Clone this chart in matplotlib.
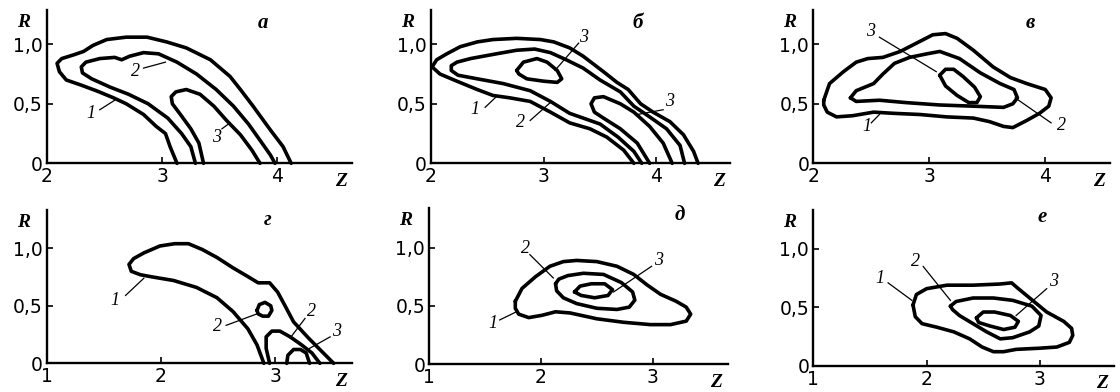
import matplotlib.pyplot as plt
import numpy as np

W, H = 1120, 392
SERIF = "Liberation Serif"
SANS = "DejaVu Sans"

# ---- panel а: contours 1-3 (open, both ends on the Z axis) ----
A1_Z = [3.13, 3.07, 3.03, 2.95, 2.84, 2.69, 2.58, 2.43, 2.29, 2.17, 2.11, 2.09, 2.13, 2.23,
        2.32, 2.40, 2.52, 2.69, 2.87, 3.04, 3.21, 3.42, 3.59, 3.68, 3.79, 3.94, 4.05, 4.12]
A1_R = [0, 0.14, 0.25, 0.31, 0.41, 0.50, 0.55, 0.61, 0.66, 0.70, 0.77, 0.84, 0.88, 0.91,
        0.94, 0.99, 1.04, 1.06, 1.06, 1.02, 0.97, 0.87, 0.73, 0.62, 0.48, 0.28, 0.14, 0]
A2_Z = [3.29, 3.25, 3.17, 3.05, 2.88, 2.71, 2.55, 2.39, 2.31, 2.30, 2.34, 2.46, 2.59, 2.65,
        2.72, 2.84, 2.97, 3.13, 3.30, 3.47, 3.62, 3.75, 3.86, 3.94, 3.98]
A2_R = [0, 0.14, 0.25, 0.38, 0.50, 0.58, 0.64, 0.71, 0.76, 0.81, 0.85, 0.88, 0.89, 0.87,
        0.90, 0.93, 0.92, 0.85, 0.75, 0.62, 0.48, 0.33, 0.18, 0.07, 0]
A3_Z = [3.36, 3.32, 3.25, 3.16, 3.09, 3.08, 3.12, 3.21, 3.33, 3.45, 3.56, 3.68, 3.78, 3.85]
A3_R = [0, 0.17, 0.29, 0.41, 0.50, 0.56, 0.60, 0.62, 0.58, 0.48, 0.36, 0.24, 0.11, 0]

# ---- panel б ----
B1_Z = [3.80, 3.71, 3.56, 3.41, 3.23, 3.06, 2.88, 2.70, 2.55, 2.41, 2.23, 2.08, 2.01, 2.05,
        2.14, 2.26, 2.41, 2.55, 2.76, 2.97, 3.09, 3.23, 3.35, 3.53, 3.65, 3.75, 3.86, 3.97,
        4.12, 4.24, 4.33, 4.37]
B1_R = [0, 0.11, 0.22, 0.29, 0.34, 0.43, 0.52, 0.55, 0.57, 0.62, 0.69, 0.75, 0.81, 0.87,
        0.92, 0.98, 1.02, 1.04, 1.05, 1.04, 1.02, 0.97, 0.90, 0.77, 0.68, 0.62, 0.50, 0.43,
        0.35, 0.24, 0.10, 0]
B2_Z = [3.87, 3.80, 3.66, 3.50, 3.23, 3.06, 2.88, 2.64, 2.41, 2.24, 2.18, 2.18, 2.23, 2.35,
        2.58, 2.76, 2.92, 3.06, 3.20, 3.35, 3.50, 3.68, 3.80, 3.94, 4.09, 4.21, 4.25]
B2_R = [0, 0.10, 0.22, 0.33, 0.42, 0.52, 0.61, 0.67, 0.71, 0.74, 0.78, 0.82, 0.85, 0.88,
        0.92, 0.95, 0.96, 0.93, 0.87, 0.80, 0.70, 0.60, 0.48, 0.39, 0.29, 0.15, 0]
B3U_Z = [2.76, 2.82, 2.94, 3.03, 3.12, 3.16, 3.12, 3.00, 2.85, 2.78]
B3U_R = [0.78, 0.85, 0.88, 0.85, 0.78, 0.71, 0.68, 0.69, 0.71, 0.75]
B3L_Z = [3.94, 3.83, 3.68, 3.53, 3.45, 3.42, 3.45, 3.53, 3.68, 3.80, 3.94, 4.06, 4.14]
B3L_R = [0, 0.17, 0.29, 0.38, 0.43, 0.50, 0.55, 0.56, 0.50, 0.43, 0.31, 0.17, 0]

# ---- panel в (closed loops) ----
V1_Z = [2.09, 2.14, 2.26, 2.37, 2.47, 2.60, 2.75, 2.89, 3.03, 3.14, 3.24, 3.38, 3.55, 3.70,
        3.84, 4.00, 4.05, 4.03, 3.95, 3.84, 3.72, 3.64, 3.52, 3.38, 3.15, 2.92, 2.69, 2.52,
        2.34, 2.20, 2.12, 2.09]
V1_R = [0.53, 0.67, 0.77, 0.85, 0.88, 0.89, 0.94, 1.01, 1.08, 1.09, 1.05, 0.95, 0.81, 0.72,
        0.67, 0.62, 0.55, 0.48, 0.42, 0.36, 0.30, 0.31, 0.35, 0.38, 0.39, 0.41, 0.42, 0.43,
        0.40, 0.39, 0.43, 0.49]
V2_Z = [2.32, 2.37, 2.52, 2.60, 2.70, 2.83, 2.98, 3.09, 3.26, 3.44, 3.61, 3.73, 3.76, 3.72,
        3.64, 3.38, 3.09, 2.80, 2.57, 2.37]
V2_R = [0.55, 0.61, 0.67, 0.75, 0.84, 0.89, 0.92, 0.94, 0.88, 0.76, 0.67, 0.62, 0.55, 0.50,
        0.47, 0.48, 0.49, 0.51, 0.53, 0.52]
V3_Z = [3.09, 3.14, 3.21, 3.29, 3.39, 3.44, 3.41, 3.34, 3.24, 3.14]
V3_R = [0.74, 0.79, 0.79, 0.73, 0.64, 0.56, 0.51, 0.51, 0.57, 0.65]

# ---- panel г ----
G1_Z = [2.90, 2.84, 2.76, 2.63, 2.49, 2.31, 2.11, 1.93, 1.82, 1.74, 1.72, 1.76, 1.85, 1.99,
        2.12, 2.24, 2.36, 2.49, 2.63, 2.75, 2.85, 2.95, 3.02, 3.08, 3.16, 3.29, 3.41, 3.51]
G1_R = [0, 0.16, 0.30, 0.45, 0.57, 0.66, 0.72, 0.75, 0.77, 0.80, 0.86, 0.91, 0.96, 1.02,
        1.04, 1.04, 0.99, 0.92, 0.83, 0.76, 0.70, 0.70, 0.62, 0.51, 0.36, 0.22, 0.10, 0]
G2L_Z = [2.84, 2.86, 2.91, 2.96, 2.97, 2.94, 2.89, 2.85]
G2L_R = [0.46, 0.51, 0.53, 0.50, 0.46, 0.41, 0.41, 0.43]
G2A_Z = [2.95, 2.92, 2.92, 2.97, 3.04, 3.13, 3.23, 3.32, 3.39]
G2A_R = [0, 0.13, 0.23, 0.28, 0.28, 0.23, 0.16, 0.09, 0]
G3_Z = [3.10, 3.11, 3.16, 3.22, 3.27, 3.30]
G3_R = [0, 0.07, 0.12, 0.12, 0.09, 0]

# ---- panel д (closed loops) ----
D1_Z = [1.77, 1.83, 1.95, 2.08, 2.20, 2.32, 2.50, 2.68, 2.83, 2.95, 3.07, 3.21, 3.30, 3.34,
        3.30, 3.16, 2.98, 2.74, 2.50, 2.26, 2.13, 2.01, 1.89, 1.80, 1.77]
D1_R = [0.54, 0.65, 0.75, 0.84, 0.88, 0.89, 0.88, 0.84, 0.77, 0.68, 0.60, 0.54, 0.49, 0.43,
        0.37, 0.34, 0.34, 0.36, 0.39, 0.44, 0.45, 0.42, 0.40, 0.43, 0.48]
D2_Z = [2.13, 2.16, 2.24, 2.38, 2.56, 2.72, 2.82, 2.84, 2.79, 2.68, 2.50, 2.32, 2.20, 2.14]
D2_R = [0.69, 0.73, 0.76, 0.78, 0.77, 0.70, 0.62, 0.55, 0.49, 0.47, 0.48, 0.52, 0.57, 0.63]
D3_Z = [2.30, 2.35, 2.45, 2.57, 2.64, 2.60, 2.48, 2.36]
D3_R = [0.62, 0.67, 0.69, 0.69, 0.64, 0.59, 0.57, 0.59]

# ---- panel е (closed loops) ----
E1_Z = [1.88, 1.91, 2.00, 2.18, 2.41, 2.65, 2.75, 2.81, 2.91, 3.06, 3.21, 3.28, 3.29, 3.26,
        3.15, 3.00, 2.79, 2.68, 2.59, 2.49, 2.38, 2.24, 2.09, 1.96, 1.90]
E1_R = [0.52, 0.61, 0.66, 0.69, 0.69, 0.70, 0.71, 0.66, 0.58, 0.46, 0.38, 0.32, 0.26, 0.20,
        0.16, 0.15, 0.14, 0.12, 0.12, 0.16, 0.23, 0.29, 0.33, 0.36, 0.42]
E2_Z = [2.21, 2.26, 2.41, 2.59, 2.76, 2.93, 3.01, 2.99, 2.91, 2.76, 2.65, 2.53, 2.41, 2.29, 2.23]
E2_R = [0.51, 0.55, 0.58, 0.58, 0.56, 0.51, 0.43, 0.34, 0.29, 0.24, 0.23, 0.29, 0.36, 0.43, 0.48]
E3_Z = [2.44, 2.50, 2.60, 2.74, 2.81, 2.78, 2.68, 2.56, 2.46]
E3_R = [0.41, 0.46, 0.46, 0.43, 0.38, 0.33, 0.31, 0.34, 0.37]

# contour number labels: (text, label Z, label R, leader from (Z, R), leader to (Z, R))
A_LABELS = [("1", 2.38, 0.42, (2.46, 0.45), (2.59, 0.53)),
            ("2", 2.77, 0.77, (2.84, 0.80), (3.03, 0.85)),
            ("3", 3.47, 0.22, (3.52, 0.29), (3.59, 0.34))]
B_LABELS = [("1", 2.39, 0.45, (2.48, 0.47), (2.58, 0.56)),
            ("2", 2.79, 0.34, (2.88, 0.36), (3.07, 0.52)),
            ("3", 3.35, 1.06, (3.31, 1.01), (3.10, 0.78)),
            ("3", 4.12, 0.52, (4.06, 0.45), (3.83, 0.41))]
V_LABELS = [("3", 2.49, 1.11, (2.57, 1.06), (3.06, 0.77)),
            ("2", 4.14, 0.32, (4.05, 0.34), (3.74, 0.55)),
            ("1", 2.46, 0.31, (2.50, 0.34), (2.57, 0.41))]
G_LABELS = [("1", 1.60, 0.55, (1.69, 0.59), (1.85, 0.74)),
            ("2", 2.49, 0.32, (2.57, 0.33), (2.84, 0.43)),
            ("2", 3.32, 0.45, (3.26, 0.39), (3.13, 0.22)),
            ("3", 3.54, 0.28, (3.48, 0.23), (3.30, 0.13))]
D_LABELS = [("2", 1.86, 0.99, (1.90, 0.94), (2.11, 0.74)),
            ("3", 3.05, 0.89, (2.99, 0.84), (2.65, 0.62)),
            ("1", 1.57, 0.35, (1.63, 0.38), (1.78, 0.45))]
E_LABELS = [("1", 1.59, 0.75, (1.66, 0.71), (1.87, 0.56)),
            ("2", 1.90, 0.89, (1.97, 0.85), (2.21, 0.56)),
            ("3", 3.12, 0.72, (3.06, 0.66), (2.79, 0.43))]

TOP_TICKS = [2, 3, 4]
BOTTOM_TICKS = [1, 2, 3]
R_TICKS = [0, 0.5, 1.0]
R_TICKLABELS = ["0", "0,5", "1,0"]

# (letter, letter pos, pixel origin x/y, px per unit Z/R, zmin, zmax, rmax, ticks, contours, labels)
PANELS = [
    ("а", (3.88, 1.18), (46.7, 163.3, 115.3, 119.0), (2, 4.65, 1.29), TOP_TICKS,
     [(A1_Z, A1_R, False), (A2_Z, A2_R, False), (A3_Z, A3_R, False)], A_LABELS),
    ("б", (3.83, 1.18), (431.0, 163.3, 112.7, 119.0), (2, 4.65, 1.29), TOP_TICKS,
     [(B1_Z, B1_R, False), (B2_Z, B2_R, False), (B3U_Z, B3U_R, True), (B3L_Z, B3L_R, False)],
     B_LABELS),
    ("в", (3.87, 1.18), (813.3, 163.3, 116.0, 119.0), (2, 4.56, 1.29), TOP_TICKS,
     [(V1_Z, V1_R, True), (V2_Z, V2_R, True), (V3_Z, V3_R, True)], V_LABELS),
    ("г", (2.93, 1.25), (46.7, 363.3, 114.3, 115.0), (1, 3.67, 1.33), BOTTOM_TICKS,
     [(G1_Z, G1_R, False), (G2L_Z, G2L_R, True), (G2A_Z, G2A_R, False), (G3_Z, G3_R, False)],
     G_LABELS),
    ("д", (3.24, 1.28), (429.3, 364.3, 111.7, 116.7), (1, 3.67, 1.34), BOTTOM_TICKS,
     [(D1_Z, D1_R, True), (D2_Z, D2_R, True), (D3_Z, D3_R, True)], D_LABELS),
    ("е", (3.02, 1.27), (813.3, 365.7, 113.3, 116.7), (1, 3.65, 1.33), BOTTOM_TICKS,
     [(E1_Z, E1_R, True), (E2_Z, E2_R, True), (E3_Z, E3_R, True)], E_LABELS),
]


def make_axes(fig, box, limits):
    """Place an axes so that its data units land on the given pixel grid."""
    ox, oy, sx, sy = box
    zmin, zmax, rmax = limits
    rect = [ox / W, (H - oy) / H, (zmax - zmin) * sx / W, rmax * sy / H]
    ax = fig.add_axes(rect)
    ax.set_xlim(zmin, zmax)
    ax.set_ylim(0, rmax)
    return ax


def style_axes(ax, xticks):
    for side in ("top", "right"):
        ax.spines[side].set_visible(False)
    for side in ("left", "bottom"):
        ax.spines[side].set_linewidth(1.7)
    ax.set_xticks(xticks)
    ax.set_xticklabels([str(t) for t in xticks])
    ax.set_yticks(R_TICKS)
    ax.set_yticklabels(R_TICKLABELS)
    ax.tick_params(direction="in", length=4, width=1.2, labelsize=13.5, pad=3)
    for lab in ax.get_xticklabels() + ax.get_yticklabels():
        lab.set_family(SANS)
    ax.patch.set_alpha(0)
    ax.annotate("R", xy=(0, 1), xycoords="axes fraction", xytext=(-17, -9),
                textcoords="offset points", ha="center", va="center",
                family=SERIF, style="italic", weight="bold", fontsize=14)
    ax.annotate("Z", xy=(1, 0), xycoords="axes fraction", xytext=(-8, -13),
                textcoords="offset points", ha="center", va="center",
                family=SERIF, style="italic", weight="bold", fontsize=14)


def draw_panel(ax, letter, letter_pos, contours, labels):
    for z, r, closed in contours:
        z = np.asarray(z)
        r = np.asarray(r)
        if closed:
            z = np.append(z, z[0])
            r = np.append(r, r[0])
        ax.plot(z, r, color="black", linewidth=2.6, solid_joinstyle="round",
                solid_capstyle="round", clip_on=False)
    for text, tz, tr, p0, p1 in labels:
        ax.plot([p0[0], p1[0]], [p0[1], p1[1]], color="black", linewidth=0.9)
        ax.text(tz, tr, text, ha="center", va="center", family=SERIF,
                style="italic", fontsize=13)
    ax.text(letter_pos[0], letter_pos[1], letter, ha="center", va="center",
            family=SERIF, style="italic", weight="bold", fontsize=15)


def main():
    fig = plt.figure(figsize=(W / 100, H / 100), dpi=100)
    fig.patch.set_facecolor("white")
    for letter, letter_pos, box, limits, xticks, contours, labels in PANELS:
        ax = make_axes(fig, box, limits)
        style_axes(ax, xticks)
        draw_panel(ax, letter, letter_pos, contours, labels)
    fig.savefig("out.png", dpi=100)
    plt.close(fig)


if __name__ == "__main__":
    main()
